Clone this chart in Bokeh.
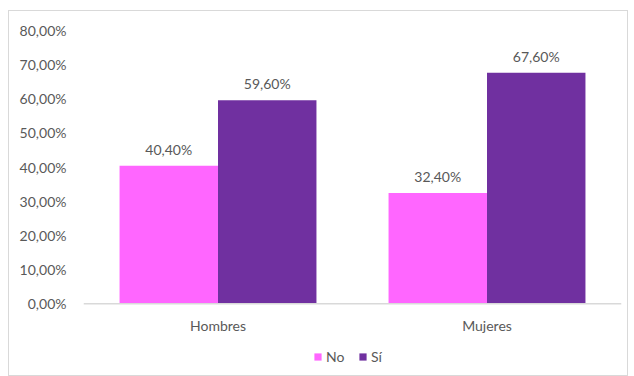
from bokeh.plotting import figure
from bokeh.models import ColumnDataSource, FactorRange, FixedTicker, CustomJSTickFormatter, Legend, LegendItem, Span
from bokeh.transform import dodge
from bokeh.core.properties import value
from bokeh.embed import file_html
from bokeh.resources import INLINE

categories = ["Hombres", "Mujeres"]
no_values = [40.4, 32.4]
si_values = [59.6, 67.6]
series_names = ["No", "Sí"]
y_ticks = [0, 10, 20, 30, 40, 50, 60, 70, 80]

def fmt(v):
    return f"{v:.2f}".replace(".", ",") + "%"

src = ColumnDataSource(dict(
    cat=categories,
    no=no_values,
    si=si_values,
    zero=[0] * len(categories),
    no_lbl=[fmt(v) for v in no_values],
    si_lbl=[fmt(v) for v in si_values],
))

FONT = "Lato"
GRAY = "#595959"
FS = "14px"

p = figure(x_range=FactorRange(*categories), y_range=(-19.85, 80),
           width=620, height=366, output_backend="svg", toolbar_location=None,
           min_border_left=74, min_border_right=8, min_border_top=19, min_border_bottom=6)
p.margin = (10, 0, 0, 8)
p.styles = {"border": "1px solid #d9d9d9"}

bw = 0.366
r_no = p.vbar(x=dodge("cat", -bw / 2, range=p.x_range), top="no", width=bw, source=src,
              fill_color="#FF66FF", line_color=None)
r_si = p.vbar(x=dodge("cat", bw / 2, range=p.x_range), top="si", width=bw, source=src,
              fill_color="#7030A0", line_color=None)

p.text(x=dodge("cat", -bw / 2, range=p.x_range), y="no", text="no_lbl", source=src,
       text_align="center", text_baseline="bottom", y_offset=-8,
       text_font=value(FONT), text_font_size=FS, text_color=GRAY)
p.text(x=dodge("cat", bw / 2, range=p.x_range), y="si", text="si_lbl", source=src,
       text_align="center", text_baseline="bottom", y_offset=-8,
       text_font=value(FONT), text_font_size=FS, text_color=GRAY)

# category axis drawn at y = 0
p.add_layout(Span(location=0, dimension="width", line_color="#d9d9d9", line_width=1.5))
p.text(x="cat", y="zero", text="cat", source=src, text_align="center", text_baseline="middle",
       y_offset=22, text_font=value(FONT), text_font_size=FS, text_color=GRAY)
p.xaxis.visible = False

p.xgrid.grid_line_color = None
p.ygrid.grid_line_color = None
p.outline_line_color = None
p.background_fill_color = "white"

p.yaxis.ticker = FixedTicker(ticks=y_ticks)
p.yaxis.formatter = CustomJSTickFormatter(code="return tick.toFixed(2).replace('.', ',') + '%';")
p.yaxis.axis_line_color = None
p.yaxis.major_tick_line_color = None
p.yaxis.minor_tick_line_color = None
p.yaxis.major_label_text_font = FONT
p.yaxis.major_label_text_font_size = FS
p.yaxis.major_label_text_color = GRAY
p.yaxis.major_label_standoff = 11

legend = Legend(items=[LegendItem(label=series_names[0], renderers=[r_no]),
                       LegendItem(label=series_names[1], renderers=[r_si])],
                orientation="horizontal", location="bottom_center",
                label_text_font=FONT, label_text_font_size=FS, label_text_color=GRAY,
                glyph_width=9, glyph_height=9, spacing=12, label_standoff=4,
                border_line_color=None, background_fill_alpha=0, padding=0, margin=6)
p.add_layout(legend)

open("out.html", "w").write(file_html(p, INLINE))
